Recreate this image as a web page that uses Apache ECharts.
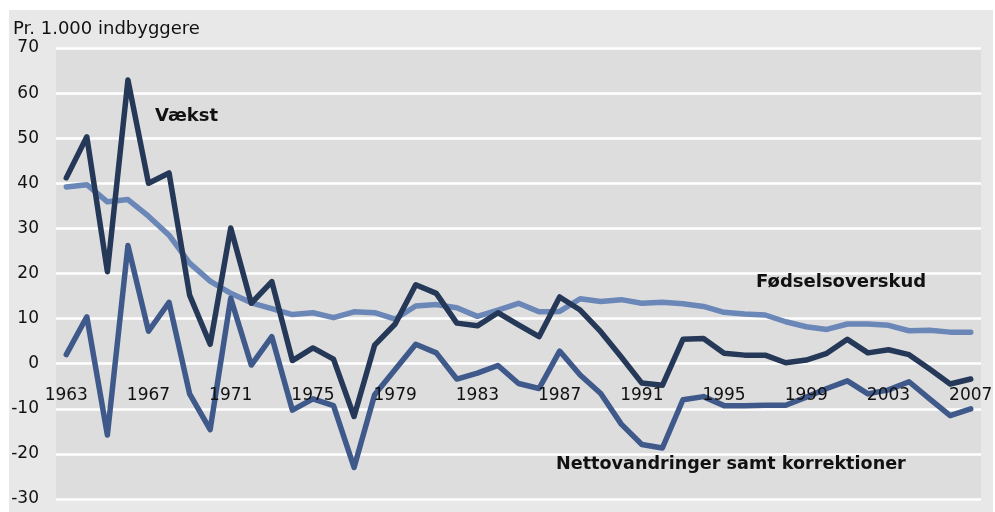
<!DOCTYPE html>
<html>
<head>
<meta charset="utf-8">
<script src="https://cdn.jsdelivr.net/npm/echarts@6/dist/echarts.min.js"></script>
<style>html,body{margin:0;padding:0;background:#fff}#c{width:995px;height:512px}</style>
</head>
<body>
<div id="c"></div>
<script>
const years = [];
for (let y = 1963; y <= 2007; y++) years.push(String(y));

const vaekst = [41.2, 50.3, 20.4, 62.9, 40.0, 42.3, 15.2, 4.3, 30.1, 13.4, 18.2, 0.7, 3.5, 1.0, -11.7, 4.1, 8.8, 17.5, 15.6, 9.0, 8.4, 11.3, 8.6, 6.0, 14.8, 11.9, 7.1, 1.5, -4.3, -4.8, 5.4, 5.6, 2.3, 1.9, 1.9, 0.2, 0.8, 2.3, 5.4, 2.4, 3.1, 2.0, -1.2, -4.5, -3.4];
const foedsel = [39.2, 39.7, 35.9, 36.4, 32.7, 28.5, 22.3, 18.3, 15.6, 13.5, 12.2, 10.9, 11.3, 10.2, 11.5, 11.3, 9.9, 12.8, 13.1, 12.4, 10.5, 11.9, 13.4, 11.5, 11.6, 14.4, 13.8, 14.2, 13.4, 13.6, 13.3, 12.7, 11.4, 11.0, 10.8, 9.3, 8.2, 7.6, 8.8, 8.8, 8.5, 7.3, 7.4, 7.0, 7.0];
const netto = [2.0, 10.4, -15.8, 26.2, 7.2, 13.6, -6.7, -14.6, 14.5, -0.3, 6.0, -10.3, -7.8, -9.3, -23.0, -6.9, -1.3, 4.3, 2.4, -3.4, -2.1, -0.4, -4.4, -5.5, 2.8, -2.5, -6.6, -13.4, -17.9, -18.7, -8.0, -7.3, -9.3, -9.3, -9.2, -9.2, -7.4, -5.5, -3.8, -6.7, -5.8, -4.0, -7.8, -11.5, -10.0];

const yTicks = {min: -30, max: 70, step: 10};
const unitLabel = 'Pr. 1.000 indbyggere';
const seriesNames = ['Vækst', 'Fødselsoverskud', 'Nettovandringer samt korrektioner'];

const font = 'DejaVu Sans';
const chart = echarts.init(document.getElementById('c'), null, {renderer: 'canvas'});
chart.setOption({
  backgroundColor: '#ffffff',
  animation: false,
  grid: {left: 56, right: 14, top: 48, bottom: 13, show: true, backgroundColor: '#dddddd', borderWidth: 0,
         containLabel: false, outerBoundsMode: 'none'},
  graphic: [
    {type: 'rect', z: -10, shape: {x: 9, y: 10, width: 984, height: 502}, style: {fill: '#e8e8e8'}, silent: true},
    {type: 'text', left: 13, top: 20, z: 10, style: {text: unitLabel, font: '18px "' + font + '"', fill: '#111'}},
    {type: 'text', left: 155, top: 107, z: 10, style: {text: seriesNames[0], font: 'bold 18px "' + font + '"', fill: '#111'}},
    {type: 'text', left: 756, top: 273, z: 10, style: {text: seriesNames[1], font: 'bold 18px "' + font + '"', fill: '#111'}},
    {type: 'text', left: 556, top: 455, z: 10, style: {text: seriesNames[2], font: 'bold 17.6px "' + font + '"', fill: '#111'}}
  ],
  xAxis: {
    type: 'category',
    data: years,
    boundaryGap: true,
    position: 'bottom',
    axisLine: {show: false, onZero: false},
    axisTick: {show: false},
    axisLabel: {interval: 3, margin: -112, color: '#111', fontSize: 17, fontFamily: font},
    splitLine: {show: false},
    z: 50
  },
  yAxis: {
    type: 'value',
    min: yTicks.min, max: yTicks.max, interval: yTicks.step,
    axisLine: {show: false},
    axisTick: {show: false},
    axisLabel: {margin: 17, color: '#111', fontSize: 17, fontFamily: font},
    splitLine: {show: true, lineStyle: {color: '#ffffff', width: 2.5}}
  },
  series: [
    {name: seriesNames[1], type: 'line', data: foedsel, symbol: 'none', z: 2,
     lineStyle: {color: '#6a87b8', width: 5.5, cap: 'round', join: 'round'}},
    {name: seriesNames[2], type: 'line', data: netto, symbol: 'none', z: 3,
     lineStyle: {color: '#3f5a8a', width: 5.5, cap: 'round', join: 'round'}},
    {name: seriesNames[0], type: 'line', data: vaekst, symbol: 'none', z: 4,
     lineStyle: {color: '#253858', width: 5.5, cap: 'round', join: 'round'}}
  ]
});
</script>
</body>
</html>
